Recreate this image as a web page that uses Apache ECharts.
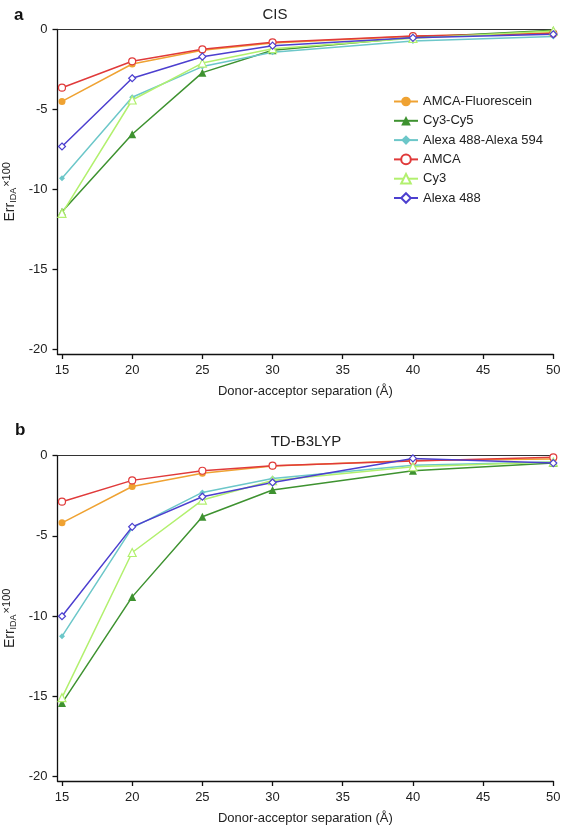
<!DOCTYPE html>
<html>
<head>
<meta charset="utf-8">
<script src="https://cdn.jsdelivr.net/npm/echarts@6/dist/echarts.min.js"></script>
<style>
html,body{margin:0;padding:0;background:#fff;}
#chart{width:562px;height:827px;}
</style>
</head>
<body>
<div id="chart"></div>
<script>
// ---- data ----
var separations = [15, 20, 25, 30, 40, 50];
var xTicks = [15, 20, 25, 30, 35, 40, 45, 50];
var yTicks = [0, -5, -10, -15, -20];
var seriesNames = ['AMCA-Fluorescein', 'Cy3-Cy5', 'Alexa 488-Alexa 594', 'AMCA', 'Cy3', 'Alexa 488'];

// Panel a: CIS
var cisAmcaFluorescein = [-4.5, -2.16, -1.3, -0.85, -0.42, -0.2];
var cisCy3Cy5         = [-11.4, -6.55, -2.7, -1.3, -0.5, -0.05];
var cisAlexa488_594   = [-9.3, -4.24, -2.32, -1.43, -0.72, -0.44];
var cisAmca           = [-3.64, -1.99, -1.24, -0.8, -0.41, -0.25];
var cisCy3            = [-11.5, -4.41, -2.1, -1.2, -0.55, -0.1];
var cisAlexa488       = [-7.32, -3.05, -1.7, -1.01, -0.52, -0.3];

// Panel b: TD-B3LYP
var tdAmcaFluorescein = [-4.19, -1.92, -1.1, -0.65, -0.3, -0.2];
var tdCy3Cy5          = [-15.44, -8.81, -3.81, -2.14, -0.94, -0.45];
var tdAlexa488_594    = [-11.27, -4.5, -2.29, -1.42, -0.6, -0.4];
var tdAmca            = [-2.87, -1.54, -0.94, -0.62, -0.33, -0.1];
var tdCy3             = [-15.1, -6.04, -2.77, -1.55, -0.69, -0.4];
var tdAlexa488        = [-10.02, -4.44, -2.56, -1.67, -0.17, -0.46];

var colors = ['#EFA232', '#3E9230', '#6CC7C9', '#E03A3A', '#B2F06E', '#4C3FCF'];
var symbols = ['circle', 'triangle', 'diamond', 'circle', 'triangle', 'diamond'];
var filled = [true, true, true, false, false, false];
var symSizes = [7, 8, 6, 7, 8, 7];

var FONT = 'Liberation Sans, Arial, sans-serif';

function pairs(vals) {
  return separations.map(function (x, i) { return [x, vals[i]]; });
}

function makeSeries(gridIdx, arrays) {
  return arrays.map(function (vals, i) {
    return {
      name: seriesNames[i],
      type: 'line',
      xAxisIndex: gridIdx * 2,
      yAxisIndex: gridIdx,
      data: pairs(vals),
      symbol: symbols[i],
      symbolSize: symSizes[i],
      showAllSymbol: true,
      lineStyle: { color: colors[i], width: 1.5 },
      itemStyle: {
        color: filled[i] ? colors[i] : '#ffffff',
        borderColor: colors[i],
        borderWidth: filled[i] ? 0 : 1.2
      },
      emphasis: { disabled: true },
      animation: false
    };
  });
}

var yName = '{n|Err}{s|IDA}{p|×100}';
var yRich = {
  n: { fontSize: 14, fontFamily: FONT, color: '#222', lineHeight: 16, verticalAlign: 'middle' },
  s: { fontSize: 9, fontFamily: FONT, color: '#222', verticalAlign: 'middle', padding: [7, 1, 0, 0] },
  p: { fontSize: 11, fontFamily: FONT, color: '#222', verticalAlign: 'middle', padding: [0, 0, 5, 0] }
};

function xAxes(gridIdx) {
  return [{
    type: 'value', gridIndex: gridIdx, position: 'bottom',
    min: 14.68, max: 50,
    name: 'Donor-acceptor separation (Å)', nameLocation: 'middle', nameGap: 31,
    nameTextStyle: { fontSize: 13, fontFamily: FONT, color: '#222' },
    axisLine: { show: true, onZero: false, lineStyle: { color: '#111', width: 1.3 } },
    axisTick: { show: true, length: 5, customValues: xTicks, lineStyle: { color: '#111', width: 1.3 } },
    axisLabel: { customValues: xTicks, margin: 10, fontSize: 13, fontFamily: FONT, color: '#222' },
    splitLine: { show: false }
  }, {
    type: 'value', gridIndex: gridIdx, position: 'top',
    min: 14.68, max: 50,
    axisLine: { show: true, onZero: false, lineStyle: { color: '#333', width: 1.2 } },
    axisTick: { show: false }, axisLabel: { show: false }, splitLine: { show: false }
  }];
}

function yAxis(gridIdx) {
  return {
    type: 'value', gridIndex: gridIdx,
    min: -20.3, max: 0,
    name: yName, nameLocation: 'middle', nameGap: 34, nameRotate: 90,
    nameTextStyle: { rich: yRich },
    axisLine: { show: true, onZero: false, lineStyle: { color: '#111', width: 1.3 } },
    axisTick: { show: true, length: 5, customValues: yTicks, lineStyle: { color: '#111', width: 1.3 } },
    axisLabel: { customValues: yTicks, margin: 10, fontSize: 13, fontFamily: FONT, color: '#222' },
    splitLine: { show: false }
  };
}

var chart = echarts.init(document.getElementById('chart'), null, { renderer: 'canvas' });
var option = {
  backgroundColor: '#ffffff',
  animation: false,
  title: [
    { text: 'a', left: 9, top: 2, textStyle: { fontSize: 17, fontWeight: 'bold', fontFamily: FONT, color: '#111' } },
    { text: 'CIS', left: 270, top: 2, textAlign: 'center', textStyle: { fontSize: 15, fontWeight: 'normal', fontFamily: FONT, color: '#222' } },
    { text: 'b', left: 10, top: 417, textStyle: { fontSize: 17, fontWeight: 'bold', fontFamily: FONT, color: '#111' } },
    { text: 'TD-B3LYP', left: 301, top: 429, textAlign: 'center', textStyle: { fontSize: 15, fontWeight: 'normal', fontFamily: FONT, color: '#222' } }
  ],
  legend: {
    orient: 'vertical', left: 388, top: 90,
    itemWidth: 24, itemHeight: 12, itemGap: 6.3,
    data: seriesNames,
    textStyle: { fontSize: 13, fontFamily: FONT, color: '#222' },
    selectedMode: false
  },
  grid: [
    { left: 57.5, right: 8.7, top: 29.5, bottom: 473, outerBoundsMode: 'none', containLabel: false },
    { left: 57.5, right: 8.7, top: 455.7, bottom: 46, outerBoundsMode: 'none', containLabel: false }
  ],
  xAxis: xAxes(0).concat(xAxes(1)),
  yAxis: [yAxis(0), yAxis(1)],
  series: makeSeries(0, [cisAmcaFluorescein, cisCy3Cy5, cisAlexa488_594, cisAmca, cisCy3, cisAlexa488])
    .concat(makeSeries(1, [tdAmcaFluorescein, tdCy3Cy5, tdAlexa488_594, tdAmca, tdCy3, tdAlexa488]))
};
chart.setOption(option);
</script>
</body>
</html>
